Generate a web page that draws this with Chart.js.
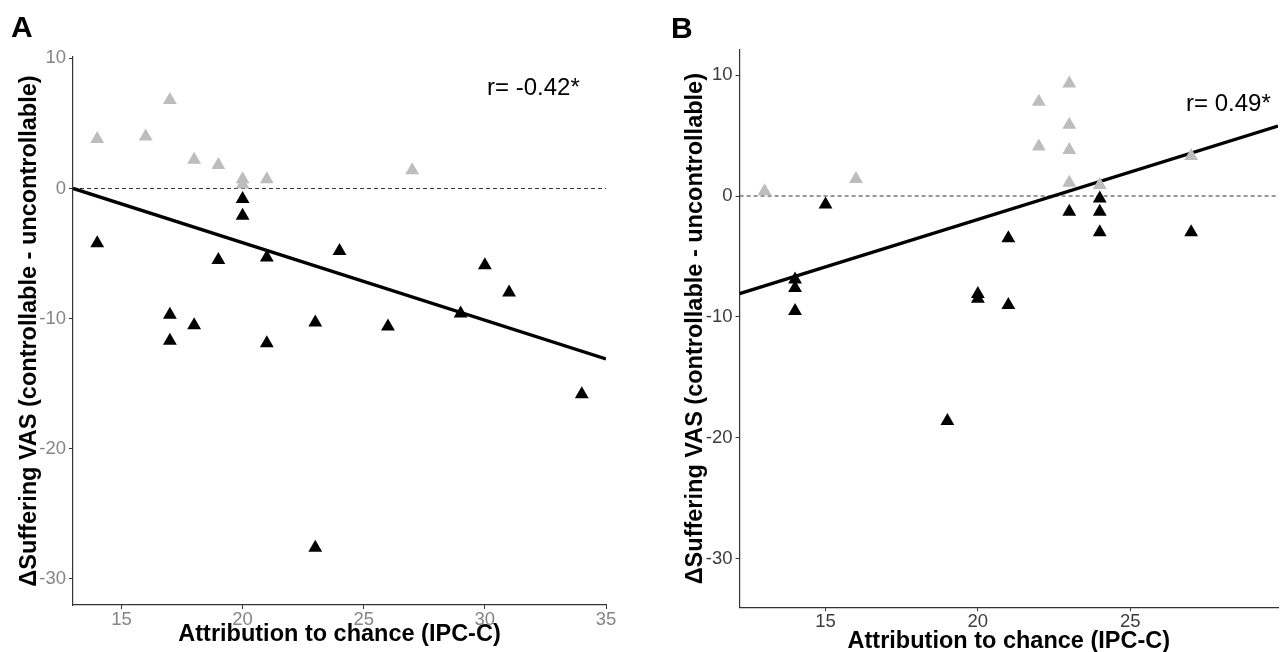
<!DOCTYPE html>
<html><head><meta charset="utf-8">
<script src="https://cdn.jsdelivr.net/npm/chart.js@4.4.1/dist/chart.umd.min.js"></script>
<style>
html,body{margin:0;padding:0;background:#fff;overflow:hidden;width:1286px;height:652px}
#wa{position:absolute;left:0;top:0;width:640px;height:652px}
#wb{position:absolute;left:640px;top:0;width:646px;height:656px}
canvas{display:block}
</style></head><body>
<div id="wa"><canvas id="ca" width="640" height="652"></canvas></div>
<div id="wb"><canvas id="cb" width="646" height="656"></canvas></div>
<script>
// ---------- Panel A data ----------
const aGreyX = [14, 16, 17, 18, 19, 20, 20, 21, 27];
const aGreyY = [3.8, 4.0, 6.8, 2.2, 1.8, 0.7, 0.3, 0.7, 1.4];
const aBlackX = [14, 20, 20, 19, 21, 24, 30, 31, 17, 18, 23, 26, 29, 17, 21, 34, 23];
const aBlackY = [-4.2, -0.8, -2.1, -5.5, -5.3, -4.8, -5.9, -8.0, -9.7, -10.5, -10.3, -10.6, -9.6, -11.7, -11.9, -15.8, -27.6];
const aFitX = [13, 35];
const aFitY = [0.0, -13.1];
const aXRange = [13, 35];
const aYRange = [-32, 10.1];
const aXTicks = [15, 20, 25, 30, 35];
const aYTicks = [-30, -20, -10, 0, 10];
const aLabel = "A";
const aR = "r= -0.42*";

// ---------- Panel B data ----------
const bGreyX = [13, 16, 22, 22, 23, 23, 23, 23, 24, 27];
const bGreyY = [0.4, 1.4, 7.8, 4.1, 9.3, 5.9, 3.8, 1.1, 0.9, 3.3];
const bBlackX = [14, 14, 14, 15, 20, 20, 21, 21, 23, 24, 24, 24, 27, 19];
const bBlackY = [-6.9, -7.6, -9.5, -0.7, -8.1, -8.5, -3.5, -9.0, -1.3, -0.2, -1.3, -3.0, -3.0, -18.6];
const bFitX = [12.18, 29.85];
const bFitY = [-8.07, 5.78];
const bXRange = [12.18, 29.85];
const bYRange = [-34, 12.07];
const bXTicks = [15, 20, 25];
const bYTicks = [-30, -20, -10, 0, 10];
const bLabel = "B";
const bR = "r= 0.49*";

const xTitle = "Attribution to chance (IPC-C)";
const yTitle = "\u0394Suffering VAS (controllable - uncontrollable)";

const FONT = "'Liberation Sans', Arial, Helvetica, sans-serif";
const zip = (xs, ys) => xs.map((x, i) => ({x: x, y: ys[i]}));

const textPlugin = {
  id: 'panelText',
  afterDraw(chart, args, opts) {
    const ctx = chart.ctx;
    (opts.items || []).forEach(t => {
      ctx.save();
      ctx.font = t.font;
      ctx.fillStyle = t.color;
      ctx.textAlign = t.align;
      ctx.textBaseline = 'alphabetic';
      ctx.fillText(t.text, t.x, t.y);
      ctx.restore();
    });
  }
};

function makePanel(canvas, p) {
  return new Chart(canvas, {
    type: 'scatter',
    data: {
      datasets: [
        {
          data: zip(p.blackX, p.blackY), pointStyle: 'triangle', pointRadius: 8,
          backgroundColor: '#000000', borderColor: '#000000', borderWidth: 0, pointHoverRadius: 8
        },
        {
          data: zip(p.greyX, p.greyY), pointStyle: 'triangle', pointRadius: 8,
          backgroundColor: '#bdbdbd', borderColor: '#bdbdbd', borderWidth: 0, pointHoverRadius: 8
        },
        {
          type: 'line', data: zip(p.fitX, p.fitY), borderColor: '#000000', borderWidth: 3.4,
          pointRadius: 0, fill: false, tension: 0
        },
        {
          type: 'line', data: zip(p.xRange, [0, 0]), borderColor: '#333333', borderWidth: 1.1,
          borderDash: [4, 3], pointRadius: 0, fill: false, tension: 0
        }
      ]
    },
    options: {
      responsive: false,
      animation: false,
      events: [],
      layout: { padding: { left: 0, right: p.padRight, top: p.padTop, bottom: 0 } },
      plugins: {
        legend: { display: false },
        tooltip: { enabled: false },
        panelText: { items: p.texts }
      },
      scales: {
        x: {
          type: 'linear', min: p.xRange[0], max: p.xRange[1],
          afterBuildTicks: s => { s.ticks = p.xTicks.map(v => ({value: v})); },
          afterFit: s => { s.height = p.xAxisH; },
          ticks: { color: p.tickColor, font: { family: FONT, size: 18.5 }, padding: 0,
                   callback: v => String(v) },
          grid: { drawOnChartArea: false, drawTicks: true, tickLength: 4, color: '#333333', lineWidth: 1 },
          border: { display: true, color: '#333333', width: 1.2 },
          title: { display: true, text: xTitle, color: '#000000',
                   font: { family: FONT, size: 23.5, weight: 'bold' },
                   padding: { top: 0, bottom: p.xTitlePad } }
        },
        y: {
          type: 'linear', min: p.yRange[0], max: p.yRange[1],
          afterBuildTicks: s => { s.ticks = p.yTicks.map(v => ({value: v})); },
          afterFit: s => { s.width = p.yAxisW; },
          ticks: { color: p.tickColor, font: { family: FONT, size: 18.5 }, padding: 3,
                   callback: v => String(v) },
          grid: { drawOnChartArea: false, drawTicks: true, tickLength: 4, color: '#333333', lineWidth: 1 },
          border: { display: true, color: '#333333', width: 1.2 },
          title: { display: true, text: yTitle, color: '#000000',
                   font: { family: FONT, size: 23.5, weight: 'bold' },
                   padding: { top: p.yTitlePad, bottom: 0 } }
        }
      }
    },
    plugins: [textPlugin]
  });
}

makePanel(document.getElementById('ca'), {
  greyX: aGreyX, greyY: aGreyY, blackX: aBlackX, blackY: aBlackY,
  fitX: aFitX, fitY: aFitY, xRange: aXRange, yRange: aYRange,
  xTicks: aXTicks, yTicks: aYTicks, tickColor: '#858585',
  padRight: 34, padTop: 57, xAxisH: 47, yAxisW: 73, xTitlePad: 3, yTitlePad: 15,
  texts: [
    { text: aLabel, x: 11, y: 37, font: "bold 30px " + FONT, color: '#000', align: 'left' },
    { text: aR, x: 487, y: 95, font: "24px " + FONT, color: '#000', align: 'left' }
  ]
});

makePanel(document.getElementById('cb'), {
  greyX: bGreyX, greyY: bGreyY, blackX: bBlackX, blackY: bBlackY,
  fitX: bFitX, fitY: bFitY, xRange: bXRange, yRange: bYRange,
  xTicks: bXTicks, yTicks: bYTicks, tickColor: '#3c3c3c',
  padRight: 0, padTop: 50, xAxisH: 48.7, yAxisW: 99.6, xTitlePad: 0.5, yTitlePad: 41,
  texts: [
    { text: bLabel, x: 31, y: 38, font: "bold 30px " + FONT, color: '#000', align: 'left' },
    { text: bR, x: 546, y: 111, font: "24px " + FONT, color: '#000', align: 'left' }
  ]
});
</script>
</body></html>
